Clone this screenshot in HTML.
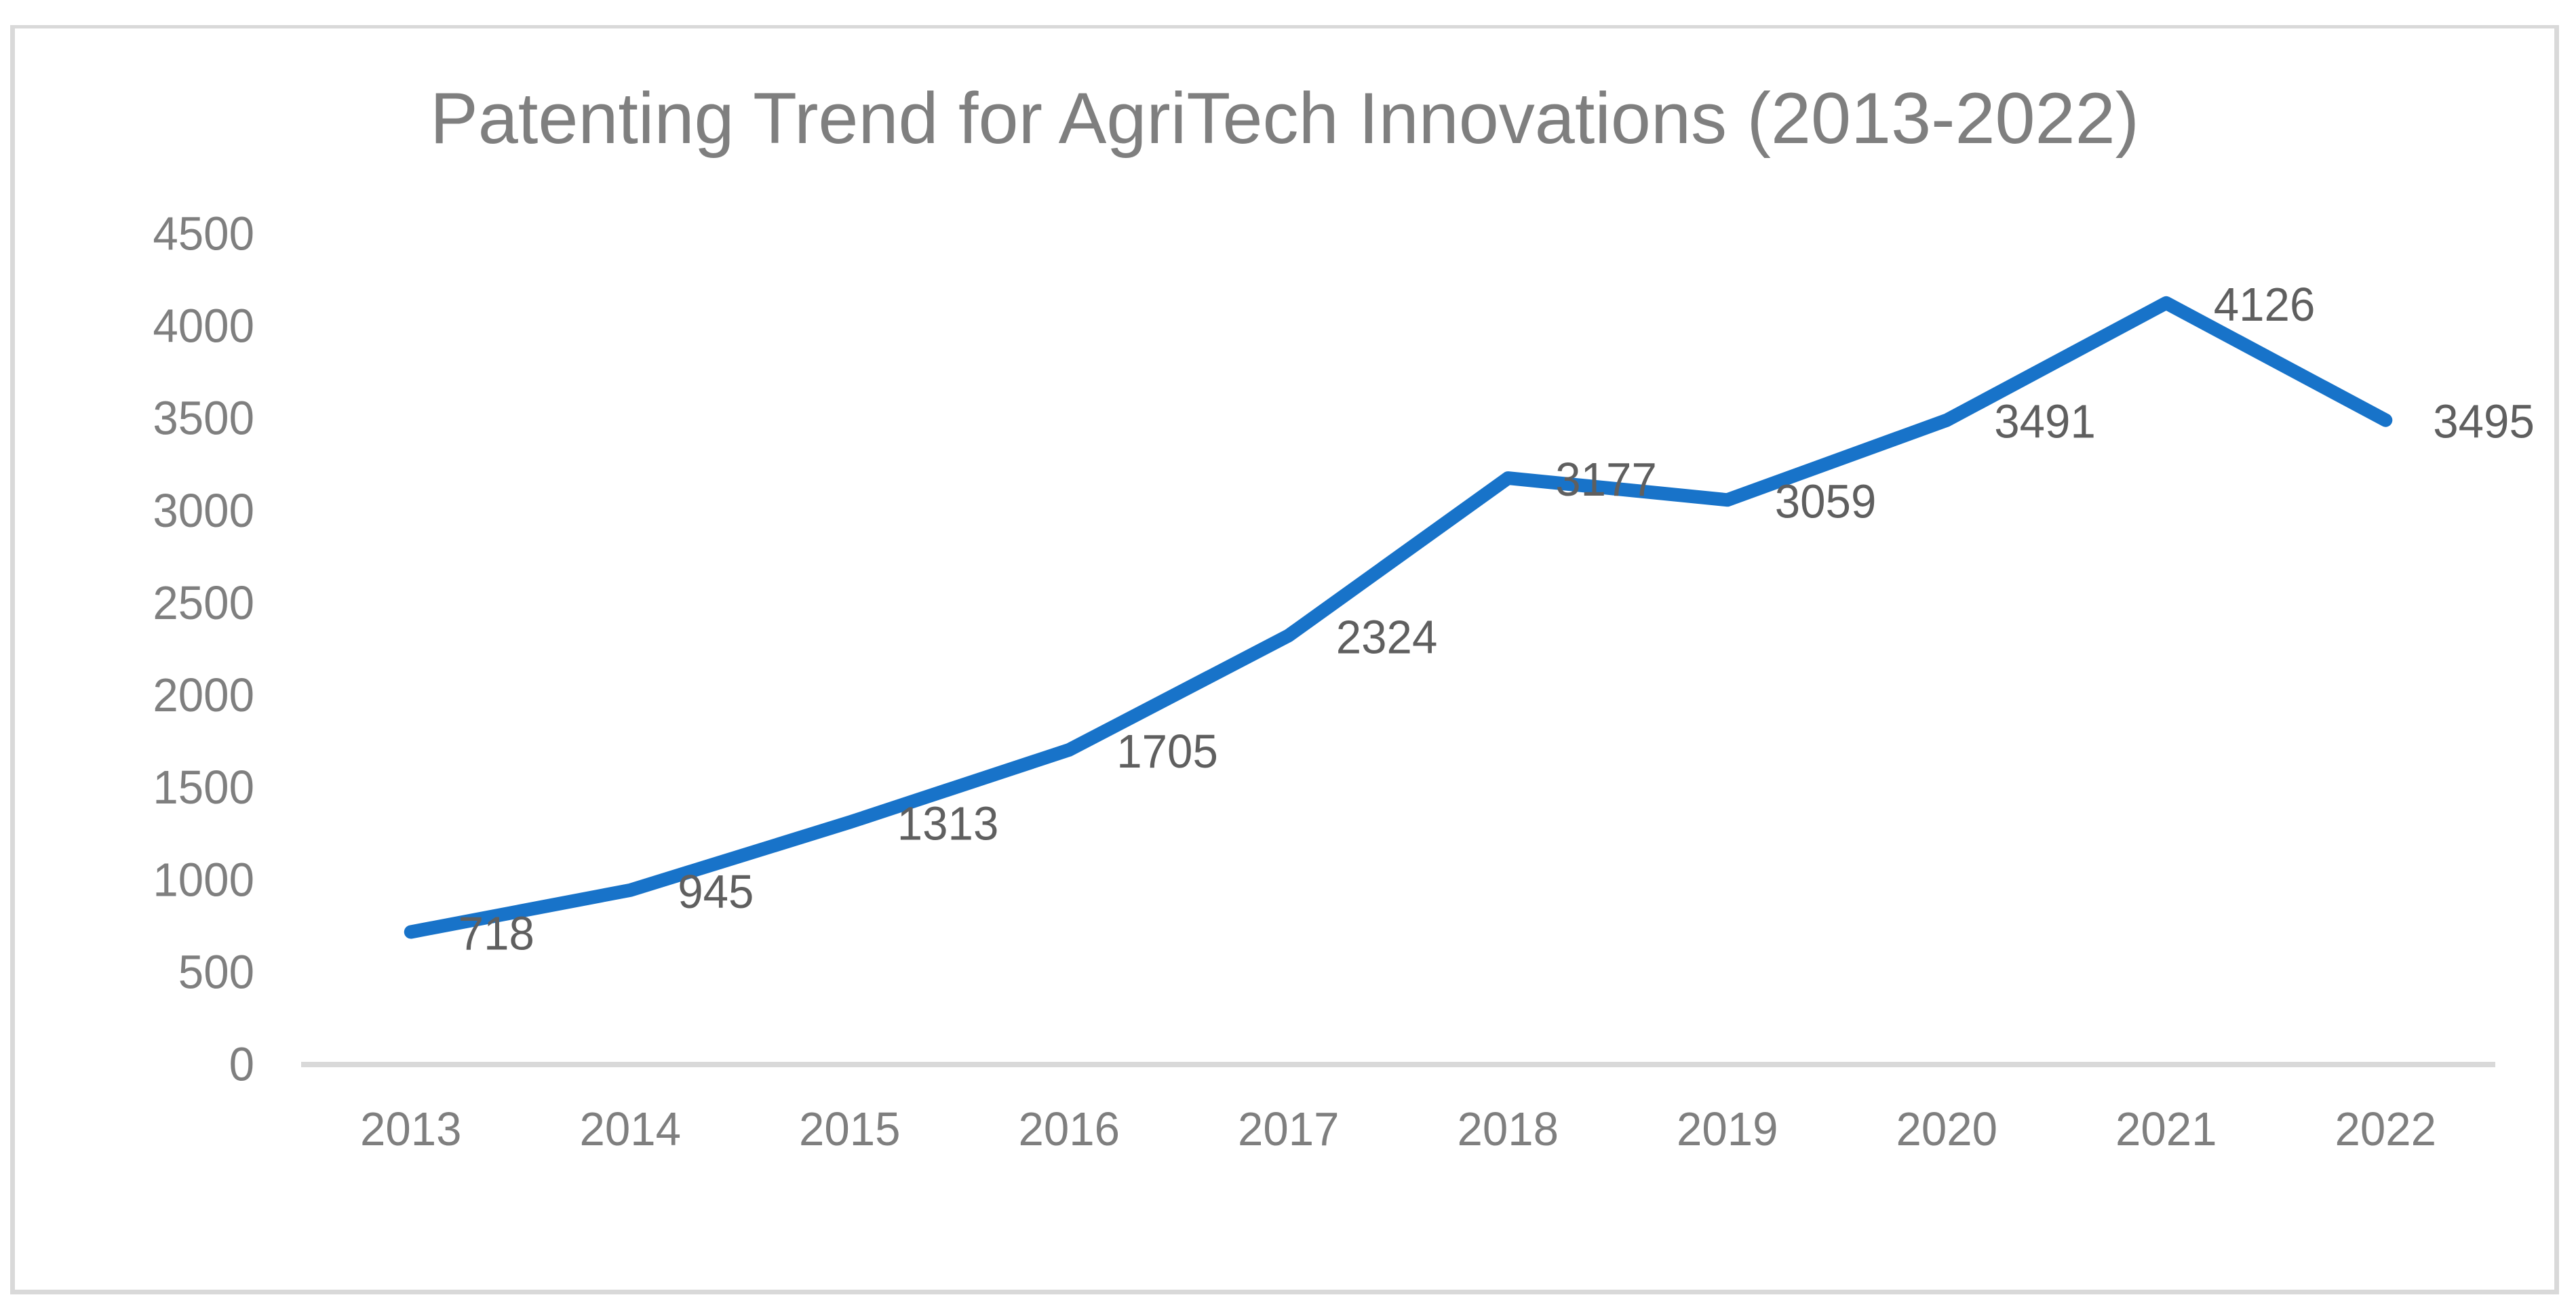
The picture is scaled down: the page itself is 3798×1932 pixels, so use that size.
<!DOCTYPE html>
<html lang="en">
<head>
<meta charset="utf-8">
<title>Patenting Trend for AgriTech Innovations (2013-2022)</title>
<style>
  html, body { margin: 0; padding: 0; background: #ffffff; }
  body { width: 3798px; height: 1932px; overflow: hidden; }
  svg { display: block; }
  text { font-family: "Liberation Sans", sans-serif; }
</style>
</head>
<body>
<svg id="chart" xmlns="http://www.w3.org/2000/svg" width="3798" height="1932" viewBox="0 0 3798 1932">
  <rect x="0" y="0" width="3798" height="1932" fill="#ffffff"/>
  <path fill="#d9d9d9" fill-rule="evenodd" d="M15 37H3773V1909H15Z M22 42V1902H3766V42Z"/>
  <text x="634" y="211" font-size="107" fill="#7f7f7f" textLength="2520" lengthAdjust="spacingAndGlyphs">Patenting Trend for AgriTech Innovations (2013-2022)</text>
  <line x1="444" y1="1570" x2="3679" y2="1570" stroke="#d9d9d9" stroke-width="8"/>
  <g id="y-ticks"></g>
  <g id="x-ticks"></g>
  <path id="series-line" fill="none" stroke="#1873c9" stroke-width="20" stroke-linecap="round" stroke-linejoin="round"/>
  <g id="data-labels"></g>
</svg>
<script>
const categories = ["2013", "2014", "2015", "2016", "2017", "2018", "2019", "2020", "2021", "2022"];
const patents = [718, 945, 1313, 1705, 2324, 3177, 3059, 3491, 4126, 3491];
const printedValues = ["718", "945", "1313", "1705", "2324", "3177", "3059", "3491", "4126", "3495"];
const yTickLabels = [0, 500, 1000, 1500, 2000, 2500, 3000, 3500, 4000, 4500];

const NS = "http://www.w3.org/2000/svg";
const plotLeft = 444, plotRight = 3679, plotBottom = 1570, plotTop = 345, yMax = 4500;
const digitWidth = 37.4;

function xScale(i) {
  return plotLeft + (i + 0.5) * (plotRight - plotLeft) / categories.length;
}
function yScale(v) {
  return plotBottom - v * (plotBottom - plotTop) / yMax;
}
function makeText(str, x, y, anchor, fill) {
  const t = document.createElementNS(NS, "text");
  t.setAttribute("x", x);
  t.setAttribute("y", y);
  t.setAttribute("text-anchor", anchor);
  t.setAttribute("font-size", "70");
  t.setAttribute("fill", fill);
  t.setAttribute("textLength", String(str).length * digitWidth);
  t.setAttribute("lengthAdjust", "spacingAndGlyphs");
  t.textContent = str;
  return t;
}

const yGroup = document.getElementById("y-ticks");
yTickLabels.forEach(function (tick) {
  const el = makeText(tick, 375, yScale(tick) + 23.5, "end", "#7f7f7f");
  
  
  yGroup.appendChild(el);
});

const xGroup = document.getElementById("x-ticks");
categories.forEach(function (cat, i) {
  const el = makeText(cat, xScale(i), 1689, "middle", "#7f7f7f");
  
  
  xGroup.appendChild(el);
});

document.getElementById("series-line").setAttribute("d",
  patents.map(function (v, i) {
    return (i === 0 ? "M" : "L") + xScale(i).toFixed(1) + " " + yScale(v).toFixed(1);
  }).join(" "));

const labelGroup = document.getElementById("data-labels");
patents.forEach(function (v, i) {
  const el = makeText(printedValues[i], xScale(i) + 70, yScale(v) + 26, "start", "#5f5f5f");
  
  
  labelGroup.appendChild(el);
});
</script>
</body>
</html>
